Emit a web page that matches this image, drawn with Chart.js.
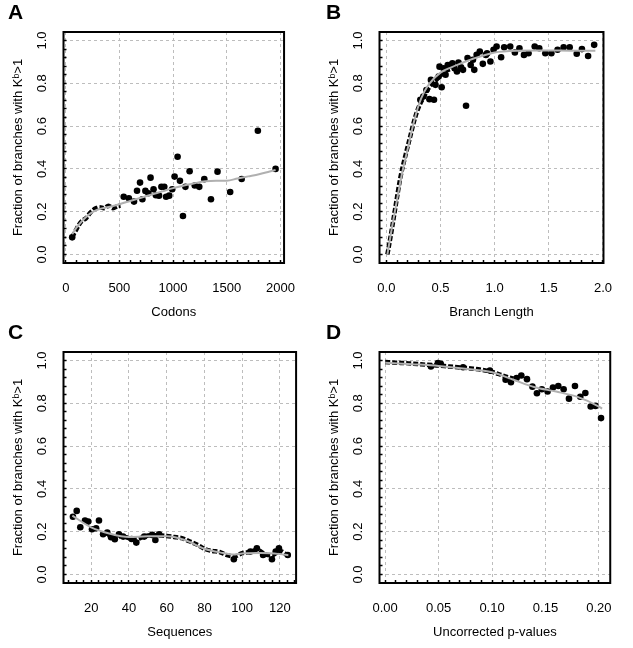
<!DOCTYPE html>
<html><head><meta charset="utf-8">
<script src="https://cdn.jsdelivr.net/npm/chart.js@4.4.0/dist/chart.umd.min.js"></script>
<style>
html,body{margin:0;padding:0;background:#fff;width:633px;height:648px;overflow:hidden}
canvas{position:absolute;display:block}
</style></head><body>
<canvas id="cA" width="316" height="320" style="left:0px;top:0px;width:316px;height:320px"></canvas>
<canvas id="cB" width="315" height="320" style="left:318px;top:0px;width:315px;height:320px"></canvas>
<canvas id="cC" width="316" height="328" style="left:0px;top:320px;width:316px;height:328px"></canvas>
<canvas id="cD" width="315" height="328" style="left:318px;top:320px;width:315px;height:328px"></canvas>
<script>
// ---------- Panel A : Codons ----------
const aPtsX = [60,540,588,636,664,692,714,742,770,790,818,840,869,891,918,935,964,992,1014,1042,1064,1092,1115,1154,1202,1244,1291,1353,1414,1532,1639,1790,1955];
const aPtsY = [0.08,0.27,0.263,0.247,0.298,0.336,0.258,0.297,0.286,0.359,0.305,0.277,0.275,0.316,0.316,0.27,0.275,0.305,0.364,0.457,0.344,0.18,0.316,0.389,0.322,0.316,0.352,0.258,0.387,0.292,0.353,0.578,0.4];
const aDenseX = [60,80,104,125,146,167,188,210,230,251,272,293,314,356,398,440,482,510];
const aDenseY = [0.08,0.1,0.122,0.14,0.154,0.162,0.169,0.184,0.196,0.205,0.214,0.218,0.221,0.216,0.228,0.216,0.226,0.228];
const aFitX = [60,100,150,200,250,300,400,500,600,700,800,900,1000,1100,1200,1300,1400,1500,1600,1700,1800,1900,1955];
const aFitY = [0.095,0.125,0.155,0.18,0.198,0.21,0.222,0.235,0.25,0.265,0.28,0.295,0.31,0.322,0.333,0.342,0.345,0.345,0.355,0.365,0.375,0.388,0.395];
const aXTicks = [0,500,1000,1500,2000];

// ---------- Panel B : Branch Length ----------
const bPtsX = [0.314,0.342,0.37,0.398,0.412,0.44,0.454,0.483,0.491,0.511,0.547,0.567,0.61,0.652,0.666,0.708,0.736,0.75,0.779,0.812,0.834,0.863,0.891,0.919,0.961,0.99,1.018,1.06,1.088,1.144,1.187,1.229,1.271,1.313,1.37,1.412,1.468,1.524,1.581,1.637,1.693,1.758,1.806,1.863,1.919,0.53,0.59,0.63,0.69,0.8,0.93];
const bPtsY = [0.723,0.738,0.769,0.726,0.816,0.723,0.793,0.832,0.878,0.782,0.84,0.886,0.894,0.855,0.897,0.863,0.695,0.918,0.886,0.863,0.933,0.949,0.891,0.933,0.902,0.957,0.972,0.922,0.969,0.972,0.944,0.964,0.933,0.941,0.972,0.964,0.941,0.941,0.957,0.969,0.969,0.938,0.96,0.928,0.98,0.87,0.885,0.87,0.875,0.91,0.94];
const bDenseX = [0.01,0.05,0.09,0.13,0.18,0.22,0.26,0.30,0.35,0.40,0.46,0.54,0.62];
const bDenseY = [0.0,0.115,0.24,0.36,0.47,0.55,0.63,0.69,0.74,0.785,0.815,0.855,0.87];
const bFitX = [0.01,0.05,0.1,0.15,0.2,0.25,0.3,0.35,0.4,0.5,0.6,0.7,0.8,0.9,1.0,1.2,1.4,1.6,1.8,1.93];
const bFitY = [0.0,0.12,0.26,0.39,0.5,0.61,0.70,0.76,0.80,0.85,0.875,0.895,0.915,0.93,0.944,0.952,0.953,0.953,0.952,0.952];
const bXTicks = [0,0.5,1.0,1.5,2.0];

// ---------- Panel C : Sequences ----------
const cPtsX = [10.3,12.3,14.2,16.7,18.4,20.4,22.6,24.1,26.3,28.5,30.5,32.5,34.7,36.9,41.4,43.9,48.1,52.3,54,56,95.6,104.4,107.8,111.1,115.8,117.8,119.5,124.2];
const cPtsY = [0.27,0.297,0.221,0.252,0.247,0.211,0.216,0.252,0.188,0.196,0.174,0.165,0.188,0.177,0.166,0.149,0.177,0.185,0.161,0.188,0.071,0.107,0.122,0.091,0.071,0.107,0.122,0.091];
const cDenseX = [28,32,36,40,44,48,52,56,60,64,68,72,76,80,84,88,92,96,100,104,108,112,116,120,124];
const cDenseY = [0.195,0.17,0.18,0.17,0.165,0.177,0.183,0.183,0.18,0.175,0.17,0.155,0.14,0.12,0.11,0.105,0.09,0.085,0.1,0.105,0.115,0.095,0.09,0.11,0.09];
const cFitX = [10,20,30,40,50,60,70,80,90,95,100,110,120,124.5];
const cFitY = [0.275,0.22,0.19,0.175,0.178,0.178,0.16,0.12,0.1,0.093,0.098,0.1,0.095,0.09];
const cXTicks = [20,40,60,80,100,120];

// ---------- Panel D : Uncorrected p-values ----------
const dPtsX = [0.0428,0.0493,0.052,0.0729,0.098,0.1127,0.1177,0.123,0.1274,0.1327,0.1378,0.142,0.1466,0.152,0.157,0.162,0.167,0.172,0.1776,0.1826,0.1873,0.1923,0.1968,0.202];
const dPtsY = [0.972,0.988,0.985,0.969,0.953,0.91,0.899,0.918,0.93,0.913,0.878,0.847,0.866,0.855,0.874,0.881,0.866,0.822,0.881,0.831,0.848,0.785,0.788,0.731];
const dDenseX = [0.0,0.01,0.02,0.03,0.04,0.05,0.06,0.07,0.08,0.09,0.1,0.11,0.12];
const dDenseY = [0.993,0.99,0.988,0.984,0.98,0.977,0.972,0.968,0.963,0.957,0.947,0.93,0.915];
const dFitX = [0,0.025,0.05,0.075,0.1,0.12,0.14,0.16,0.18,0.2,0.203];
const dFitY = [0.99,0.983,0.975,0.962,0.945,0.91,0.875,0.855,0.83,0.785,0.775];
const dXTicks = [0,0.05,0.10,0.15,0.20];

// ---------- shared y axis ----------
const yTicks = [0,0.2,0.4,0.6,0.8,1.0];
const yTitle = 'Fraction of branches with K\u1D47>1';

const FONT = "'Liberation Sans', Arial, Helvetica, sans-serif";
const GRID = '#bdbdbd';
const FIT = '#b0b0b0';

function seq(a, b, s) { const out = []; const n = Math.round((b - a) / s); for (let i = 0; i <= n; i++) out.push(+(a + i * s).toFixed(6)); return out; }
function isIn(v, arr) { return arr.some(m => Math.abs(m - v) < 1e-7); }
function pts(xs, ys) { return xs.map((x, i) => ({x: x, y: ys[i]})); }

const boxPlugin = {
  id: 'box',
  afterDatasetsDraw(chart) {
    const {ctx, chartArea: a} = chart;
    ctx.save();
    ctx.strokeStyle = '#000';
    ctx.lineWidth = 2;
    ctx.strokeRect(a.left, a.top, a.right - a.left, a.bottom - a.top);
    ctx.restore();
  }
};

function panel(id, p) {
  const font = {family: FONT, size: 13};
  new Chart(document.getElementById(id), {
    type: 'scatter',
    data: {
      datasets: [
        {data: pts(p.fitX, p.fitY), showLine: true, borderColor: FIT, borderWidth: 2, pointRadius: 0, cubicInterpolationMode: 'monotone'},
        {data: pts(p.denseX, p.denseY), showLine: true, borderColor: '#000', borderWidth: 4.5, borderDash: [5, 2], pointRadius: 0, cubicInterpolationMode: 'monotone'},
        {data: pts(p.ptsX, p.ptsY), showLine: false, pointRadius: 3.3, pointBackgroundColor: '#000', pointBorderWidth: 0, backgroundColor: '#000'}
      ]
    },
    options: {
      responsive: false, animation: false, devicePixelRatio: 1,
      layout: {padding: {left: 8, right: p.padRight, top: 0, bottom: p.padBottom}},
      plugins: {
        legend: {display: false}, tooltip: {enabled: false},
        title: {display: true, text: p.letter, align: 'start', color: '#000',
          font: {family: FONT, size: 21, weight: 'bold', lineHeight: 1.2}, padding: {top: 1, bottom: 5.8}}
      },
      scales: {
        x: {
          type: 'linear', position: 'bottom', min: p.xMin, max: p.xMax,
          afterBuildTicks: s => { s.ticks = p.xMinor.map(v => ({value: v})); },
          afterFit: s => { s.height = p.xHeight; },
          ticks: {autoSkip: false, maxRotation: 0, minRotation: 0, padding: 21, color: '#000', font: font,
            callback: v => isIn(v, p.xMajor) ? p.xFmt(v) : ''},
          grid: {color: c => (c.tick && isIn(c.tick.value, p.xMajor)) ? GRID : 'rgba(0,0,0,0)', lineWidth: 1,
            drawTicks: true, tickLength: -3, tickColor: '#000', tickWidth: 1.5},
          border: {display: false, dash: [3, 3]},
          title: {display: true, text: p.xTitle, color: '#000', font: font, padding: {top: 0, bottom: p.xTitlePad}}
        },
        y: {
          type: 'linear', position: 'left', min: -0.04, max: 1.04,
          afterBuildTicks: s => { s.ticks = seq(0, 1, 0.04).map(v => ({value: v})); },
          afterFit: s => { s.width = p.yWidth; },
          ticks: {autoSkip: false, minRotation: 90, maxRotation: 90, crossAlign: 'center', padding: 15, color: '#000', font: font,
            callback: v => isIn(v, yTicks) ? v.toFixed(1) : ''},
          grid: {color: c => (c.tick && isIn(c.tick.value, yTicks)) ? GRID : 'rgba(0,0,0,0)', lineWidth: 1,
            drawTicks: true, tickLength: -3, tickColor: '#000', tickWidth: 1.5},
          border: {display: false, dash: [3, 3]},
          title: {display: true, text: yTitle, color: '#000', font: font, padding: {top: p.yTitlePad, bottom: 0}}
        }
      }
    },
    plugins: [boxPlugin]
  });
}

panel('cA', {letter: 'A', ptsX: aPtsX, ptsY: aPtsY, denseX: aDenseX, denseY: aDenseY, fitX: aFitX, fitY: aFitY,
  xMin: -21, xMax: 2034, xMajor: aXTicks, xMinor: seq(0, 2000, 100), xFmt: v => String(Math.round(v)),
  xTitle: 'Codons', padRight: 8, padBottom: 0, xHeight: 57, yWidth: 55.5, xTitlePad: 0, yTitlePad: 3});
panel('cB', {letter: 'B', ptsX: bPtsX, ptsY: bPtsY, denseX: bDenseX, denseY: bDenseY, fitX: bFitX, fitY: bFitY,
  xMin: -0.063, xMax: 2.005, xMajor: bXTicks, xMinor: seq(0, 2, 0.1), xFmt: v => v.toFixed(1),
  xTitle: 'Branch Length', padRight: 9, padBottom: 0, xHeight: 57, yWidth: 53.5, xTitlePad: 0, yTitlePad: 1});
panel('cC', {letter: 'C', ptsX: cPtsX, ptsY: cPtsY, denseX: cDenseX, denseY: cDenseY, fitX: cFitX, fitY: cFitY,
  xMin: 5.3, xMax: 128.6, xMajor: cXTicks, xMinor: seq(8, 128, 4), xFmt: v => String(Math.round(v)),
  xTitle: 'Sequences', padRight: 8, padBottom: 0, xHeight: 65, yWidth: 55.5, xTitlePad: 8, yTitlePad: 3});
panel('cD', {letter: 'D', ptsX: dPtsX, ptsY: dPtsY, denseX: dDenseX, denseY: dDenseY, fitX: dFitX, fitY: dFitY,
  xMin: -0.0053, xMax: 0.2106, xMajor: dXTicks, xMinor: seq(0, 0.2, 0.01), xFmt: v => v.toFixed(2),
  xTitle: 'Uncorrected p-values', padRight: 9, padBottom: 0, xHeight: 65, yWidth: 53.5, xTitlePad: 8, yTitlePad: 1});
</script>
</body></html>
